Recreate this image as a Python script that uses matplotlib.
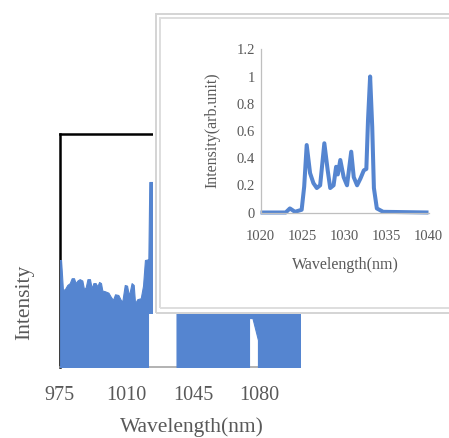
import numpy as np
import matplotlib
matplotlib.use('Agg')
import matplotlib.pyplot as plt
from matplotlib.patches import Rectangle

plt.rcParams['font.family'] = ['Liberation Serif', 'DejaVu Serif']

# main spectrum (envelope of the dense trace, arb. units)
main_wl = [975.0, 975.7, 976.05, 976.7, 977.8, 979.0, 980.3, 981.3, 982.5, 983.4,
           984.3, 985.5, 986.9, 987.8, 988.7, 989.6, 990.9, 991.8, 992.7, 993.9,
           994.8, 995.7, 996.7, 997.4, 998.8, 1000.6, 1001.8, 1003.0, 1004.1, 1005.8,
           1007.1, 1007.9, 1009.2, 1010.4, 1011.4, 1012.8, 1013.9, 1014.6, 1015.8, 1017.6,
           1018.8, 1019.8, 1021.4, 1021.4, 1021.6, 1022.1, 1024.4, 1026.0, 1030.0, 1036.4,
           1036.4, 1045.0, 1055.0, 1065.0, 1074.5, 1074.5, 1076.3, 1079.2, 1079.2, 1090.0,
           1101.3]
main_top = [0.459, 0.459, 0.416, 0.330, 0.335, 0.352, 0.360, 0.381, 0.381, 0.360,
            0.371, 0.377, 0.371, 0.333, 0.343, 0.377, 0.377, 0.338, 0.360, 0.360,
            0.346, 0.365, 0.360, 0.328, 0.325, 0.319, 0.302, 0.288, 0.312, 0.309,
            0.288, 0.281, 0.352, 0.349, 0.306, 0.360, 0.352, 0.274, 0.291, 0.295,
            0.349, 0.459, 0.462, 0.462, 0.462, 0.794, 0.794, 0.750, 0.700, 0.600,
            0.600, 0.600, 0.600, 0.600, 0.600, 0.600, 0.600, 0.600, 0.600, 0.600,
            0.600]
main_floor = [0, 0, 0, 0, 0, 0, 0, 0, 0, 0,
              0, 0, 0, 0, 0, 0, 0, 0, 0, 0,
              0, 0, 0, 0, 0, 0, 0, 0, 0, 0,
              0, 0, 0, 0, 0, 0, 0, 0, 0, 0,
              0, 0, 0, 0.232, 0.232, 0.232, 0.232, 0.232, 0.232, 0.232,
              0, 0, 0, 0, 0, 0.21, 0.21, 0.116, 0, 0,
              0]
main_ticks = [975, 1010, 1045, 1080]

# inset spectrum (normalised)
ins_wl = [1020.0, 1023.0, 1023.5, 1024.1, 1024.9, 1025.2, 1025.5, 1025.9, 1026.3, 1026.7,
          1027.1, 1027.6, 1028.0, 1028.3, 1028.7, 1029.0, 1029.2, 1029.5, 1029.9, 1030.3,
          1030.8, 1031.1, 1031.5, 1031.9, 1032.3, 1032.6, 1032.8, 1033.05, 1033.3, 1033.5,
          1033.85, 1034.6, 1040.0]
ins_val = [0, 0, 0.03, 0.005, 0.02, 0.19, 0.496, 0.29, 0.216, 0.18,
           0.2, 0.509, 0.31, 0.18, 0.2, 0.336, 0.28, 0.386, 0.26, 0.2,
           0.447, 0.26, 0.2, 0.25, 0.31, 0.32, 0.68, 1.0, 0.63, 0.18,
           0.03, 0.005, 0]
ins_xticks = [1020, 1025, 1030, 1035, 1040]
ins_yticks = [0, 0.2, 0.4, 0.6, 0.8, 1.0, 1.2]
ins_ylabels = ['0', '0.2', '0.4', '0.6', '0.8', '1', '1.2']

blue = '#5585d0'
txt = '#595959'
W, H = 449, 438

def fx(px):
    return px / W

def fy(py):
    return 1 - py / H

fig = plt.figure(figsize=(W / 100, H / 100), dpi=100)

# main chart
ax = fig.add_axes([fx(59.7), fy(367), (300 - 59.7) / W, (367 - 134) / H])
ax.fill_between(main_wl, main_floor, main_top, color=blue, edgecolor=blue, lw=0.8, zorder=3)
ax.set_xlim(975, 1101.3)
ax.set_ylim(0, 1)
ax.set_xticks(main_ticks)
ax.set_yticks([])
ax.tick_params(axis='x', length=0, pad=14, labelsize=14.5, labelcolor=txt)
for s in ['left', 'top']:
    ax.spines[s].set_color('black')
    ax.spines[s].set_linewidth(1.8)
ax.spines['right'].set_visible(False)
ax.spines['bottom'].set_color('#a6a6a6')
ax.spines['bottom'].set_linewidth(1.2)
ax.set_xlabel('Wavelength(nm)', fontsize=15.5, color=txt)
ax.xaxis.set_label_coords(0.549, -0.216)
ax.set_ylabel('Intensity', fontsize=15.5, color=txt)
ax.yaxis.set_label_coords(-0.107, 0.279)

# inset frame
fig.add_artist(Rectangle((fx(153), fy(314)), 1, fy(10) - fy(314), transform=fig.transFigure,
                         facecolor='white', edgecolor='none', zorder=2))
fig.add_artist(Rectangle((fx(155.8), fy(312.5)), fx(470) - fx(155.8), fy(13.5) - fy(312.5),
                         transform=fig.transFigure, fill=False, edgecolor='#d4d4d4',
                         lw=1.4, zorder=3))
fig.add_artist(Rectangle((fx(159.5), fy(308)), fx(470) - fx(159.5), fy(17.5) - fy(308),
                         transform=fig.transFigure, fill=False, edgecolor='#dedede',
                         lw=1.4, zorder=3))

# inset chart
ins = fig.add_axes([fx(260.5), fy(212.5), (428.5 - 260.5) / W, (212.5 - 49.3) / H])
ins.set_zorder(5)
ins.patch.set_alpha(0)
ins.plot(ins_wl, ins_val, color=blue, lw=2.9, solid_capstyle='butt', clip_on=False)
ins.set_xlim(1020, 1040)
ins.set_ylim(0, 1.2)
ins.set_xticks(ins_xticks)
ins.set_yticks(ins_yticks)
ins.set_yticklabels(ins_ylabels)
ins.tick_params(axis='x', length=0, pad=12.5, labelsize=10.5, labelcolor=txt)
ins.tick_params(axis='y', length=0, pad=4, labelsize=10.5, labelcolor=txt)
for s in ['top', 'right']:
    ins.spines[s].set_visible(False)
for s in ['left', 'bottom']:
    ins.spines[s].set_color('#bfbfbf')
    ins.spines[s].set_linewidth(0.9)
ins.set_xlabel('Wavelength(nm)', fontsize=11.5, color=txt)
ins.xaxis.set_label_coords(0.503, -0.275)
ins.set_ylabel('Intensity(arb.unit)', fontsize=11.5, color=txt)
ins.yaxis.set_label_coords(-0.24, 0.505)

plt.savefig('out.png', dpi=100)
